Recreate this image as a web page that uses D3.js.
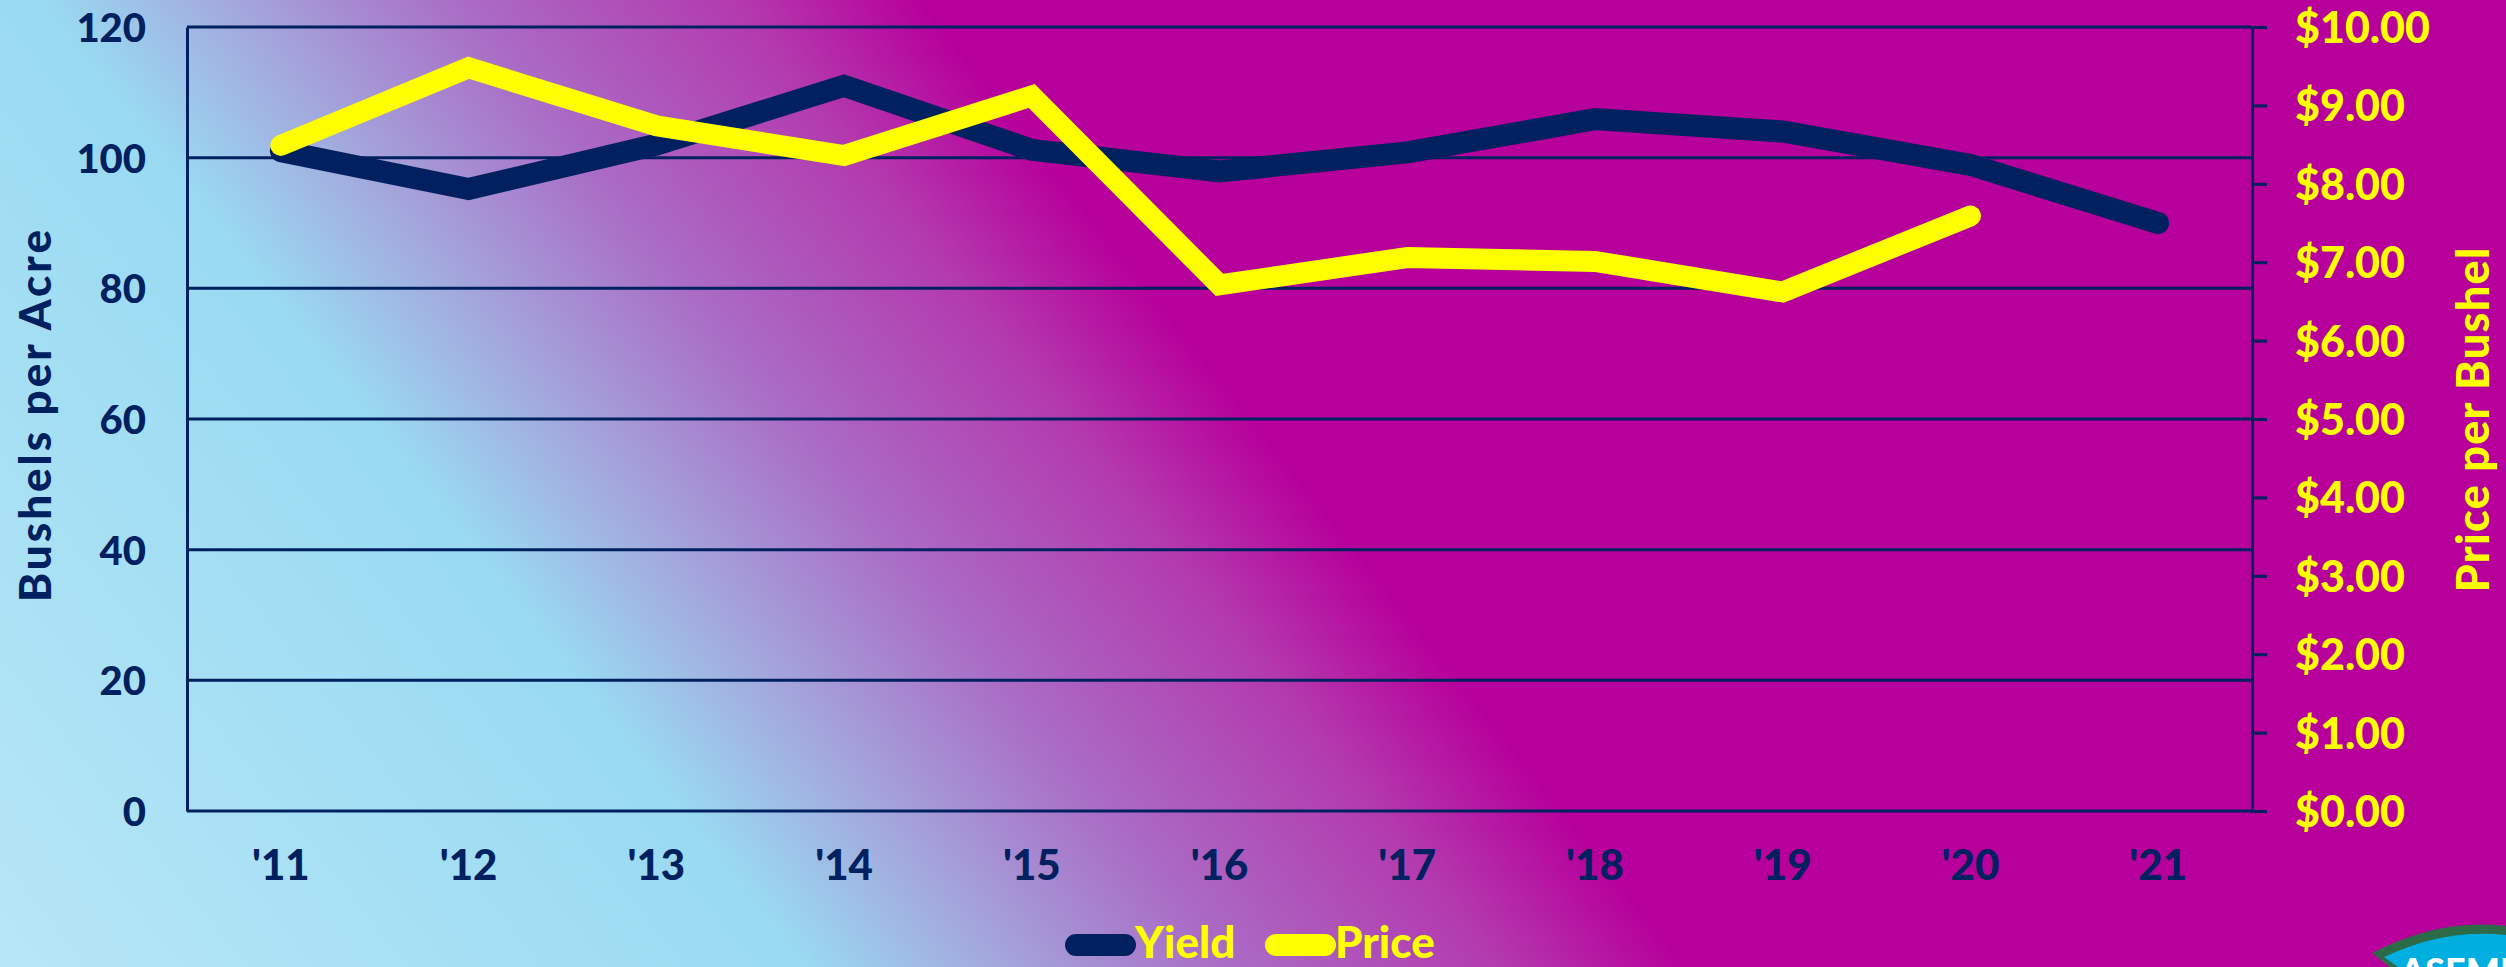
<!DOCTYPE html>
<html>
<head>
<meta charset="utf-8">
<script src="https://cdn.jsdelivr.net/npm/d3@7"></script>
<style>
  html, body { margin: 0; padding: 0; overflow: hidden; background: #b5009b; }
  text { font-family: Lato, "Open Sans", sans-serif; font-weight: 900; }
</style>
</head>
<body>
<svg id="chart" width="2506" height="967"></svg>
<script>
// ---- data ----
const years = ["'11", "'12", "'13", "'14", "'15", "'16", "'17", "'18", "'19", "'20", "'21"];
const yieldValues = [101, 95.2, 102, 111, 101.2, 97.9, 100.8, 105.9, 104, 98.9, 90];
const priceValues = [8.49, 9.48, 8.74, 8.36, 9.12, 6.71, 7.06, 7.01, 6.62, 7.59];
const yieldTicks = [0, 20, 40, 60, 80, 100, 120];
const priceTicks = [0, 1, 2, 3, 4, 5, 6, 7, 8, 9, 10];
const legendItems = ["Yield", "Price"];

(function () {
const W = 2506, H = 967;
const pl = 187, pr = 2252, pt = 27, pb = 811;
const NAVY = "#002060", YELLOW = "#ffff00";

const svg = d3.select("#chart");

// background gradient
const defs = svg.append("defs");
const grad = defs.append("linearGradient").attr("id", "bg")
  .attr("gradientUnits", "userSpaceOnUse")
  .attr("x1", -470).attr("y1", 373).attr("x2", 564).attr("y2", -447);
[[0, "#b7e6f7"], [0.477, "#99daf2"], [0.59, "#a3a8dd"], [0.727, "#aa6cc5"], [0.89, "#b33aae"], [1, "#b7009b"]]
  .forEach(([o, c]) => grad.append("stop").attr("offset", o).attr("stop-color", c));
svg.append("rect").attr("width", W).attr("height", H).attr("fill", "url(#bg)");

// scales
const x = d3.scaleBand().domain(years).range([pl, pr]).padding(0);
const y = d3.scaleLinear().domain([0, 120]).range([pb, pt]);
const y2 = d3.scaleLinear().domain([0, 10]).range([pb, pt]);
const cx = d => x(d) + x.bandwidth() / 2;

// gridlines
svg.append("g").selectAll("line").data(yieldTicks).join("line")
  .attr("x1", pl).attr("x2", pr)
  .attr("y1", d => y(d)).attr("y2", d => y(d))
  .attr("stroke", NAVY).attr("stroke-width", 3);

// left axis
const gL = svg.append("g").attr("transform", `translate(${pl},0)`)
  .call(d3.axisLeft(y).tickValues(yieldTicks).tickSize(0).tickPadding(41));
gL.select(".domain").attr("stroke", NAVY).attr("stroke-width", 3);
gL.selectAll("text").attr("fill", NAVY).style("font-size", "40px").attr("dy", "0.36em");

// right axis
const gR = svg.append("g").attr("transform", `translate(${pr},0)`)
  .call(d3.axisRight(y2).tickValues(priceTicks).tickSize(15).tickPadding(28)
    .tickFormat(d => "$" + d3.format(".2f")(d)));
gR.select(".domain").attr("stroke", NAVY).attr("stroke-width", 3);
gR.selectAll(".tick line").attr("stroke", NAVY).attr("stroke-width", 3);
gR.selectAll("text").attr("fill", YELLOW).style("font-size", "43px").attr("dy", "0.36em");

// bottom axis
const gB = svg.append("g").attr("transform", `translate(0,${pb})`)
  .call(d3.axisBottom(x).tickSize(0).tickPadding(39));
gB.select(".domain").remove();
gB.selectAll("text").attr("fill", NAVY).style("font-size", "42px").attr("dy", "0.71em");

// axis titles
svg.append("text").attr("transform", `translate(51,416) rotate(-90)`)
  .attr("text-anchor", "middle").attr("fill", NAVY).style("font-size", "44px")
  .attr("textLength", 372).attr("lengthAdjust", "spacing")
  .text("Bushels per Acre");
svg.append("text").attr("transform", `translate(2489,420) rotate(-90)`)
  .attr("text-anchor", "middle").attr("fill", YELLOW).style("font-size", "45px")
  .attr("textLength", 345).attr("lengthAdjust", "spacing")
  .text("Price per Bushel");

// lines
const lineY = d3.line().x((d, i) => cx(years[i])).y(d => y(d));
const lineP = d3.line().x((d, i) => cx(years[i])).y(d => y2(d));
svg.append("path").datum(yieldValues).attr("d", lineY)
  .attr("fill", "none").attr("stroke", NAVY).attr("stroke-width", 22)
  .attr("stroke-linecap", "round").attr("stroke-linejoin", "miter");
svg.append("path").datum(priceValues).attr("d", lineP)
  .attr("fill", "none").attr("stroke", YELLOW).attr("stroke-width", 21)
  .attr("stroke-linecap", "round").attr("stroke-linejoin", "miter");

// legend
const legendColors = [NAVY, YELLOW];
const legendX = [1065, 1265];
const lg = svg.append("g");
legendItems.forEach((name, i) => {
  lg.append("line").attr("x1", legendX[i] + 11).attr("x2", legendX[i] + 60)
    .attr("y1", 945).attr("y2", 945)
    .attr("stroke", legendColors[i]).attr("stroke-width", 22).attr("stroke-linecap", "round");
  lg.append("text").attr("x", legendX[i] + 70).attr("y", 958)
    .attr("fill", YELLOW).style("font-size", "44px").text(name);
});

// logo badge (partially visible)
const logo = svg.append("g");
logo.append("path")
  .attr("d", "M2372,953 Q2440,918 2506,926 L2506,967 L2390,967 Z")
  .attr("fill", "#2d6a48");
logo.append("path")
  .attr("d", "M2384,957 Q2445,928 2506,935 L2506,967 L2398,967 Z")
  .attr("fill", "#00aee0");
logo.append("text").attr("x", 2400).attr("y", 984).attr("fill", "#ffffff")
  .style("font-size", "36px").text("ASEMPA");
})();
</script>
</body>
</html>
